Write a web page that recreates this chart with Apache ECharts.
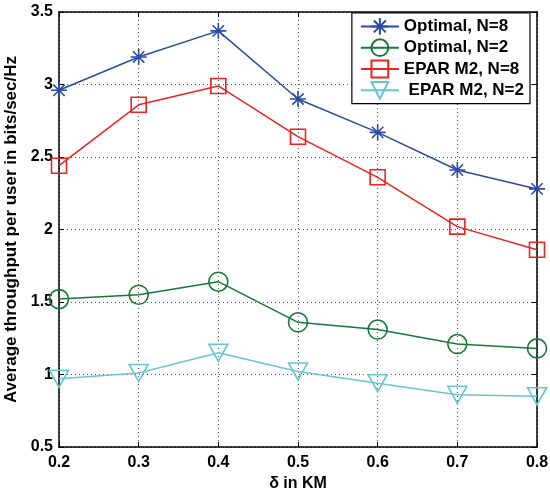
<!DOCTYPE html>
<html><head><meta charset="utf-8">
<script src="https://cdn.jsdelivr.net/npm/echarts@6/dist/echarts.min.js"></script>
<style>html,body{margin:0;padding:0;background:#fff}#c{width:550px;height:489px}</style>
</head><body><div id="c"></div>
<script>
const deltas = [0.2, 0.3, 0.4, 0.5, 0.6, 0.7, 0.8];
const optimalN8 = [2.96, 3.19, 3.37, 2.90, 2.67, 2.41, 2.28];
const optimalN2 = [1.52, 1.55, 1.64, 1.36, 1.31, 1.21, 1.18];
const eparN8 = [2.44, 2.86, 2.99, 2.64, 2.36, 2.02, 1.86];
const eparN2 = [0.97, 1.01, 1.15, 1.02, 0.94, 0.86, 0.85];
const seriesNames = ['Optimal, N=8', 'Optimal, N=2', 'EPAR M2, N=8', ' EPAR M2, N=2'];

const FONT = 'Liberation Sans, Arial, sans-serif';
const star = 'path://M0,-10L0,10M-10,0L10,0M-7.07,-7.07L7.07,7.07M-7.07,7.07L7.07,-7.07';
const tri = 'path://M-10,-8.66L10,-8.66L0,8.66Z';

function pairs(ys){ return deltas.map((x,i)=>[x, ys[i]]); }
function mk(name, ys, color, symbol, size){
  return {
    name, type:'line', data: pairs(ys), symbol, symbolSize: size,
    lineStyle:{color, width:1.5},
    itemStyle:{color:'rgba(0,0,0,0)', borderColor:color, borderWidth:1.6},
    emphasis:{disabled:true}, animation:false, z:3
  };
}
const axisCommon = {
  axisLine:{show:true, lineStyle:{color:'#000', width:1.5}},
  axisTick:{show:true, inside:true, length:5, lineStyle:{color:'#000', width:1}},
};
const chart = echarts.init(document.getElementById('c'), null, {renderer:'canvas'});
chart.setOption({
  backgroundColor:'#fff',
  animation:false,
  grid:{left:59, right:13, top:12, bottom:42, containLabel:false, outerBoundsMode:'none'},
  legend:{
    orient:'vertical', right:20, top:13, padding:[4,6,4,8],
    backgroundColor:'#fff', borderColor:'#000', borderWidth:1.2,
    itemWidth:38, itemHeight:21, itemGap:2.5,
    textStyle:{fontFamily:FONT, fontWeight:'bold', fontSize:17, color:'#000'},
    data: seriesNames
  },
  xAxis:[
    Object.assign({type:'value', min:0.2, max:0.8, interval:0.1, position:'bottom',
      name:'δ in KM', nameLocation:'middle', nameGap:24,
      nameTextStyle:{fontFamily:FONT, fontWeight:'bold', fontSize:16, color:'#000'},
      axisLabel:{fontFamily:FONT, fontWeight:'bold', fontSize:16, color:'#000', margin:8},
      splitLine:{show:true, lineStyle:{color:'#555', width:1, type:[1,3]}}}, axisCommon),
    Object.assign({type:'value', min:0.2, max:0.8, interval:0.1, position:'top',
      axisLabel:{show:false}, splitLine:{show:false}}, axisCommon)
  ],
  yAxis:[
    Object.assign({type:'value', min:0.5, max:3.5, interval:0.5, position:'left',
      name:'Average throughput per user in bits/sec/Hz', nameLocation:'middle', nameGap:33,
      nameTextStyle:{fontFamily:FONT, fontWeight:'bold', fontSize:17, color:'#000'},
      axisLabel:{fontFamily:FONT, fontWeight:'bold', fontSize:16, color:'#000', margin:6},
      splitLine:{show:true, lineStyle:{color:'#555', width:1, type:[1,3]}}}, axisCommon),
    Object.assign({type:'value', min:0.5, max:3.5, interval:0.5, position:'right',
      axisLabel:{show:false}, splitLine:{show:false}}, axisCommon)
  ],
  series:[
    mk(seriesNames[0], optimalN8, '#2b4ba3', star, 16),
    mk(seriesNames[1], optimalN2, '#167a36', 'circle', 19),
    mk(seriesNames[2], eparN8, '#ee2222', 'rect', 15),
    mk(seriesNames[3], eparN2, '#66c6d4', tri, [19,17])
  ]
});
</script></body></html>
